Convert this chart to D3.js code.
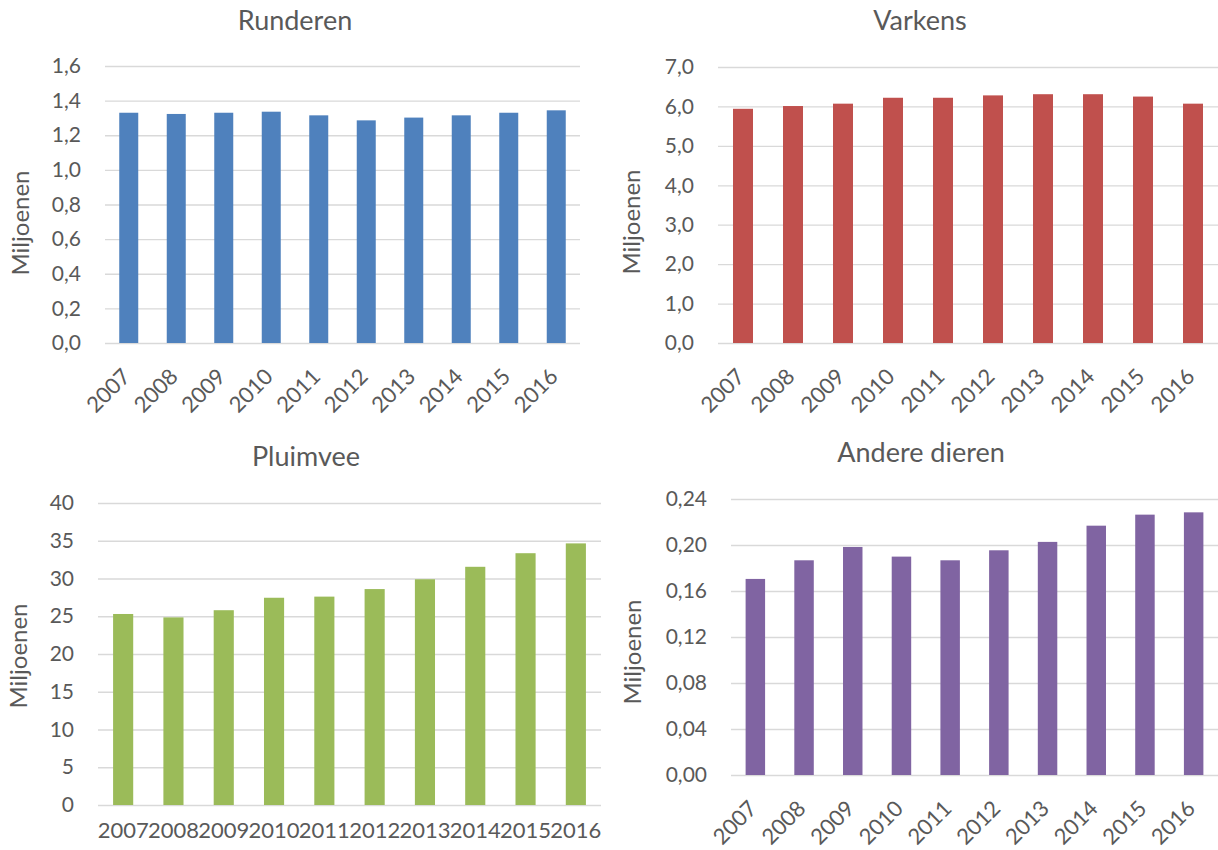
<!DOCTYPE html>
<html>
<head>
<meta charset="utf-8">
<script src="https://cdn.jsdelivr.net/npm/d3@7"></script>
<style>
body { margin: 0; background: #fff; }
text { font-family: Lato, "Open Sans", sans-serif; fill: #595959; }
.grid line { stroke: #d9d9d9; stroke-width: 1.3; }
</style>
</head>
<body>
<div id="chart"></div>
<script>
var width = 1218;
var height = 850;

// Data
var years = ["2007", "2008", "2009", "2010", "2011", "2012", "2013", "2014", "2015", "2016"];
var runderen = [1.330, 1.323, 1.330, 1.336, 1.315, 1.286, 1.302, 1.315, 1.330, 1.344];
var varkens = [5.94, 6.01, 6.07, 6.22, 6.22, 6.28, 6.31, 6.31, 6.25, 6.07];
var pluimvee = [25.3, 24.85, 25.8, 27.45, 27.6, 28.6, 29.9, 31.55, 33.35, 34.65];
var andere = [0.1705, 0.1867, 0.1983, 0.1899, 0.1867, 0.1954, 0.2027, 0.2168, 0.2264, 0.2284];

var titles = ["Runderen", "Varkens", "Pluimvee", "Andere dieren"];
var yTicksRunderen = [0, 0.2, 0.4, 0.6, 0.8, 1.0, 1.2, 1.4, 1.6];
var yTicksVarkens = [0, 1, 2, 3, 4, 5, 6, 7];
var yTicksPluimvee = [0, 5, 10, 15, 20, 25, 30, 35, 40];
var yTicksAndere = [0, 0.04, 0.08, 0.12, 0.16, 0.20, 0.24];

var svg = d3.select("#chart")
  .append("svg")
  .attr("width", width)
  .attr("height", height);

// panel layout (pixels)
var panels = [
  { title: titles[0], values: runderen, ticks: yTicksRunderen, dec: 1, color: "#4f81bd",
    x0: 105, x1: 580, y0: 66, y1: 343, titleX: 295, titleY: 30, labX: 29, labY: 223, rotate: true },
  { title: titles[1], values: varkens, ticks: yTicksVarkens, dec: 1, color: "#c0504d",
    x0: 718, x1: 1218, y0: 67, y1: 343, titleX: 920, titleY: 30, labX: 640, labY: 222, rotate: true },
  { title: titles[2], values: pluimvee, ticks: yTicksPluimvee, dec: 0, color: "#9bbb59",
    x0: 98, x1: 601, y0: 503, y1: 805, titleX: 306, titleY: 466, labX: 27, labY: 656, rotate: false },
  { title: titles[3], values: andere, ticks: yTicksAndere, dec: 2, color: "#8064a2",
    x0: 731, x1: 1218, y0: 499, y1: 775, titleX: 921, titleY: 462, labX: 641, labY: 652, rotate: true }
];

panels.forEach(function(p) {
  var g = svg.append("g");

  var xScale = d3.scaleBand()
    .domain(years)
    .range([p.x0, p.x1])
    .paddingInner(0.6)
    .paddingOuter(0.3);

  var yScale = d3.scaleLinear()
    .domain([0, p.ticks[p.ticks.length - 1]])
    .range([p.y1, p.y0]);

  var fmt = function(d) { return d3.format("." + p.dec + "f")(d).replace(".", ","); };

  // gridlines
  var yGrid = d3.axisLeft(yScale)
    .tickValues(p.ticks)
    .tickSize(-(p.x1 - p.x0))
    .tickFormat("");
  g.append("g")
    .attr("class", "grid")
    .attr("transform", "translate(" + p.x0 + ",0)")
    .call(yGrid)
    .call(function(s) { s.select(".domain").remove(); });

  // y tick labels
  var yAxis = d3.axisLeft(yScale)
    .tickValues(p.ticks)
    .tickSize(0)
    .tickPadding(24)
    .tickFormat(fmt);
  g.append("g")
    .attr("transform", "translate(" + p.x0 + ",0)")
    .call(yAxis)
    .call(function(s) {
      s.select(".domain").remove();
      s.selectAll("text").style("font-size", "21px").attr("fill", "#595959");
    });

  // bars
  g.selectAll("rect.bar")
    .data(p.values)
    .enter()
    .append("rect")
    .attr("class", "bar")
    .attr("x", function(d, i) { return xScale(years[i]); })
    .attr("width", xScale.bandwidth())
    .attr("y", function(d) { return yScale(d); })
    .attr("height", function(d) { return yScale(0) - yScale(d); })
    .attr("fill", p.color);

  // x labels
  var xAxis = d3.axisBottom(xScale).tickSize(0).tickPadding(0);
  var xg = g.append("g")
    .attr("transform", "translate(0," + p.y1 + ")")
    .call(xAxis);
  xg.select(".domain").remove();
  xg.selectAll("text")
    .attr("fill", "#595959");
  if (p.rotate) {
    xg.selectAll("text")
      .style("font-size", "22px")
      .attr("dy", null)
      .attr("y", 0)
      .attr("text-anchor", "end")
      .attr("transform", "translate(3,35) rotate(-45)");
  }
  else {
    xg.selectAll("text")
      .style("font-size", "22px")
      .attr("dy", null)
      .attr("y", 33);
  }

  // title
  g.append("text")
    .attr("x", p.titleX)
    .attr("y", p.titleY)
    .attr("text-anchor", "middle")
    .style("font-size", "27px")
    .text(p.title);

  // axis label
  g.append("text")
    .attr("transform", "translate(" + p.labX + "," + p.labY + ") rotate(-90)")
    .attr("text-anchor", "middle")
    .style("font-size", "24px")
    .text("Miljoenen");
});
</script>
</body>
</html>
